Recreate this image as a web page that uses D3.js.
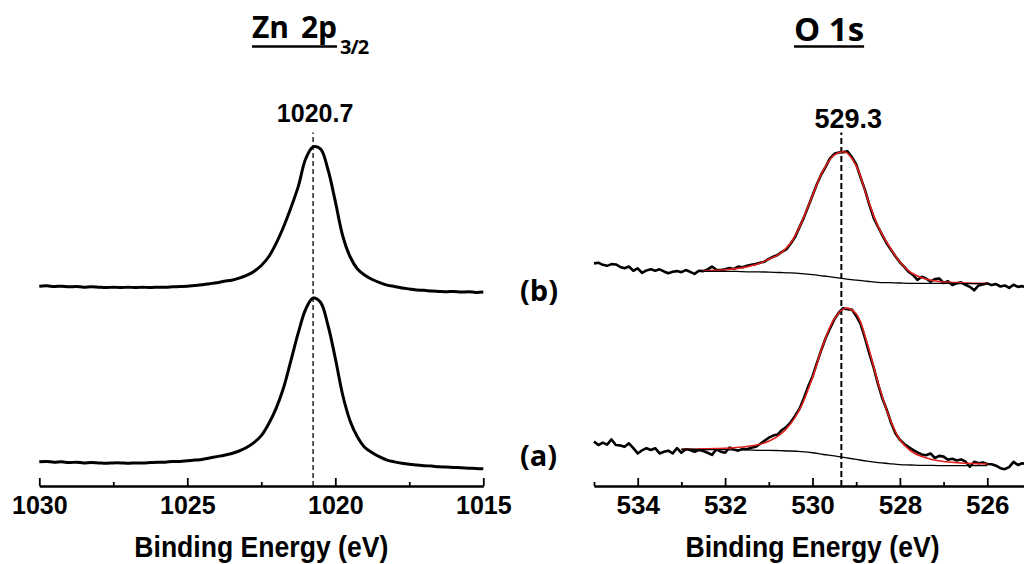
<!DOCTYPE html>
<html>
<head>
<meta charset="utf-8">
<script src="https://cdn.jsdelivr.net/npm/d3@7/dist/d3.min.js"></script>
<style>
body { margin: 0; background: #fff; }
</style>
</head>
<body>
<div id="vis"></div>
<script>
const width = 1024
const height = 564

// Zn 2p3/2, one point every 0.25 eV from 1030 down to 1015 (a.u.)
const znStart = 1030
const znStep = 0.25
const znA = [
    6.9, 7.0, 6.8, 6.9, 6.7, 6.8, 6.6, 6.7, 6.6, 6.5,
    6.6, 6.6, 6.5, 6.6, 6.6, 6.7, 6.8, 6.8, 7.0, 7.0,
    7.2, 7.4, 7.6, 8.0, 8.4, 8.8, 9.3, 10.0, 11.0, 12.4,
    14.4, 17.8, 22.2, 28.0, 35.8, 43.8, 50.5, 53.7, 52.5, 46.0,
    36.5, 26.0, 18.6, 14.0, 11.0, 9.5, 8.3, 7.4, 6.9, 6.5,
    6.2, 6.0, 5.8, 5.7, 5.5, 5.4, 5.3, 5.2, 5.1, 5.0,
    4.9
]
const znB = [
    57.1, 57.2, 57.0, 57.1, 56.9, 57.0, 56.8, 56.9, 56.8, 56.7,
    56.8, 56.7, 56.8, 56.7, 56.8, 56.7, 56.8, 56.8, 56.9, 57.0,
    57.1, 57.3, 57.5, 57.8, 58.1, 58.5, 58.8, 59.4, 60.2, 61.3,
    63.0, 65.5, 69.3, 74.0, 79.5, 85.6, 93.5, 96.9, 96.3, 90.5,
    81.3, 71.5, 65.5, 62.0, 60.2, 59.0, 58.1, 57.4, 57.0, 56.6,
    56.3, 56.0, 55.9, 55.7, 55.6, 55.5, 55.6, 55.4, 55.5, 55.3,
    55.4
]

// O 1s raw data, one point every 0.1 eV from 535 down to 525 (a.u.)
const oStart = 535
const oStep = 0.1
const oA = [
    12.7, 11.7, 12.4, 11.8, 13.3, 11.7, 11.6, 11.2, 12.2, 10.8,
    9.3, 10.2, 10.8, 10.3, 10.8, 9.3, 9.8, 10.1, 9.3, 10.8,
    9.5, 10.5, 10.3, 9.8, 10.3, 10.0, 9.5, 8.9, 10.5, 9.8,
    9.5, 11.0, 10.4, 10.1, 10.6, 10.5, 10.9, 11.2, 12.0, 12.9,
    13.8, 14.4, 14.7, 16.0, 16.8, 18.2, 20.0, 22.0, 25.0, 28.4,
    31.3, 35.1, 38.8, 42.2, 45.0, 47.6, 49.5, 50.8, 50.5, 50.4,
    48.6, 46.3, 42.3, 37.9, 33.8, 29.1, 25.0, 21.7, 18.0, 15.0,
    13.2, 12.0, 11.1, 10.3, 9.6, 9.0, 8.8, 9.3, 8.0, 8.6,
    8.4, 7.5, 7.8, 7.3, 7.6, 7.0, 5.5, 6.9, 6.5, 6.7,
    6.3, 6.2, 5.8, 5.1, 4.8, 5.4, 6.9, 6.0, 6.5, 6.2,
    6.4
]
const oB = [
    63.6, 63.8, 63.2, 62.9, 63.4, 63.3, 62.6, 62.2, 62.7, 61.5,
    62.2, 60.9, 61.6, 61.9, 61.5, 61.9, 61.3, 60.8, 61.2, 61.4,
    61.1, 61.7, 61.2, 60.6, 61.5, 61.4, 61.9, 62.7, 61.8, 61.7,
    61.9, 62.3, 62.0, 62.7, 62.5, 62.9, 63.2, 63.4, 63.8, 64.1,
    64.9, 65.5, 66.0, 66.9, 67.6, 69.2, 71.1, 73.9, 76.6, 79.8,
    83.0, 86.2, 89.0, 91.2, 93.6, 94.9, 95.3, 95.4, 95.6, 94.0,
    91.9, 88.2, 84.6, 80.4, 76.6, 74.0, 71.6, 69.3, 67.4, 65.6,
    63.9, 62.6, 61.2, 60.3, 58.9, 59.8, 59.3, 58.4, 59.1, 59.3,
    58.0, 58.5, 57.4, 57.9, 58.2, 57.5, 56.9, 55.9, 57.3, 57.6,
    57.9, 57.4, 57.7, 57.0, 57.3, 56.6, 57.5, 56.9, 57.1, 56.8,
    57.2
]

// O 1s fit (red) and Shirley background, every 0.25 eV down to 526
const fitStep = 0.25
const fitAStart = 533
const fitA = [
    10.5, 10.5, 10.6, 10.7, 10.8, 11.0, 11.3, 11.8, 12.8, 14.6,
    17.8, 23.0, 31.0, 40.6, 47.8, 50.8, 49.2, 40.8, 29.5, 19.8,
    13.2, 10.0, 8.4, 7.5, 7.0, 6.7, 6.5, 6.4, 6.3
]
const bgA = [
    10.5, 10.5, 10.4, 10.4, 10.4, 10.3, 10.3, 10.2, 10.2, 10.1,
    10.0, 9.8, 9.5, 9.0, 8.6, 8.1, 7.6, 7.1, 6.7, 6.4,
    6.1, 6.0, 5.9, 5.9, 5.8, 5.8, 5.8, 5.8, 5.8
]
const fitBStart = 532.5
const fitB = [
    61.5, 61.6, 61.8, 62.1, 62.6, 63.4, 64.8, 66.3, 69.4, 75.3,
    83.0, 90.3, 94.6, 95.4, 91.5, 82.5, 74.2, 68.6, 64.0, 61.0,
    59.5, 58.7, 58.3, 58.1, 58.0, 57.9, 57.9
]
const bgB = [
    61.3, 61.3, 61.3, 61.3, 61.2, 61.2, 61.1, 61.0, 60.9, 60.7,
    60.4, 60.0, 59.6, 59.2, 58.8, 58.5, 58.2, 58.1, 58.0, 57.9,
    57.9, 57.9, 57.9, 57.9, 57.8, 57.8, 57.8
]

// axes and peak markers
const znMajor = [1030, 1025, 1020, 1015]
const znMinor = [1027.5, 1022.5, 1017.5]
const oMajor = [534, 532, 530, 528, 526]
const oMinor = [535, 533, 531, 529, 527, 525]
const znPeak = 1020.75
const znPeakLabel = "1020.7"
const oPeak = 529.34
const oPeakLabel = "529.3"
const markerTop = 101

const svg = d3.select("#vis")
    .append("svg")
    .attr("width", width)
    .attr("height", height)

const y = d3.scaleLinear([0, 100], [486, 136])
const xZn = d3.scaleLinear([1030, 1015], [39.3, 483.3])
const xO = d3.scaleLinear([535, 525], [594, 1031])

const energies = (start, step, n) => d3.range(n).map(i => start - i * step)

function curve(x, start, step, values, curveType) {
    const e = energies(start, step, values.length)
    return d3.line()
        .x((d, i) => x(e[i]))
        .y(d => y(d))
        .curve(curveType)(values)
}

function drawAxis(x, major, minor, fontSize, label) {
    const gMinor = svg.append("g")
        .attr("transform", `translate(0, ${y(0)})`)
        .call(d3.axisBottom(x).tickValues(minor).tickSize(-4).tickSizeOuter(0).tickFormat(""))
    const gMajor = svg.append("g")
        .attr("transform", `translate(0, ${y(0)})`)
        .call(d3.axisBottom(x).tickValues(major).tickSize(-8).tickSizeOuter(0).tickPadding(10).tickFormat(d3.format("d")))
    for (const g of [gMinor, gMajor]) {
        g.select(".domain").attr("stroke", "#000").attr("stroke-width", 2)
        g.selectAll(".tick line").attr("stroke", "#000").attr("stroke-width", 1.8)
    }
    gMajor.selectAll(".tick text")
        .attr("fill", "#000")
        .style("font-family", "'Liberation Sans', Arial, sans-serif")
        .style("font-weight", "bold")
        .style("font-size", fontSize + "px")
    const [r0, r1] = x.range()
    svg.append("text")
        .attr("x", (r0 + r1) / 2)
        .attr("y", 557)
        .attr("text-anchor", "middle")
        .attr("textLength", 254)
        .attr("lengthAdjust", "spacingAndGlyphs")
        .style("font-family", "'Liberation Sans', Arial, sans-serif")
        .style("font-weight", "bold")
        .style("font-size", "29px")
        .text(label)
}

function drawMarker(x, value, label, dash, strokeWidth, fontSize, dx, labelY) {
    svg.append("line")
        .attr("x1", x(value)).attr("x2", x(value))
        .attr("y1", y(0)).attr("y2", y(markerTop))
        .attr("stroke", "#000")
        .attr("stroke-width", strokeWidth)
        .attr("stroke-dasharray", dash)
    svg.append("text")
        .attr("x", x(value) + dx)
        .attr("y", labelY)
        .attr("text-anchor", "middle")
        .style("font-family", "'Liberation Sans', Arial, sans-serif")
        .style("font-weight", "bold")
        .style("font-size", fontSize + "px")
        .text(label)
}

// Zn 2p panel
drawMarker(xZn, znPeak, znPeakLabel, "5,3", 1.3, 25, 2, 122)
for (const s of [znA, znB]) {
    svg.append("path")
        .attr("d", curve(xZn, znStart, znStep, s, d3.curveCatmullRom))
        .attr("fill", "none")
        .attr("stroke", "#000")
        .attr("stroke-width", 3)
        .attr("stroke-linejoin", "round")
}
drawAxis(xZn, znMajor, znMinor, 25, "Binding Energy (eV)")

// O 1s panel
drawMarker(xO, oPeak, oPeakLabel, "6,3", 2, 27, 7, 128)
const oSets = [
    [oA, fitAStart, fitA, bgA],
    [oB, fitBStart, fitB, bgB]
]
for (const [raw, fStart, fit, bg] of oSets) {
    svg.append("path")
        .attr("d", curve(xO, oStart, oStep, raw, d3.curveLinear))
        .attr("fill", "none")
        .attr("stroke", "#000")
        .attr("stroke-width", 2.6)
        .attr("stroke-linejoin", "round")
    svg.append("path")
        .attr("d", curve(xO, fStart, fitStep, fit, d3.curveCatmullRom))
        .attr("fill", "none")
        .attr("stroke", "#e3201b")
        .attr("stroke-width", 1.6)
    svg.append("path")
        .attr("d", curve(xO, fStart, fitStep, bg, d3.curveCatmullRom))
        .attr("fill", "none")
        .attr("stroke", "#000")
        .attr("stroke-width", 1.3)
}
drawAxis(xO, oMajor, oMinor, 26, "Binding Energy (eV)")

// sample labels
const sampleLabels = ["(a)", "(b)"]
svg.selectAll("text.sample")
    .data(sampleLabels)
    .join("text")
        .attr("class", "sample")
        .attr("x", 520)
        .attr("y", (d, i) => i === 0 ? 466 : 301)
        .style("font-family", "'Open Sans', sans-serif")
        .style("font-weight", "bold")
        .style("font-size", "29px")
        .text(d => d)

// panel titles, underlined
function title(x, baseline, main, sub, size, wordSpacing) {
    const t = svg.append("text")
        .attr("x", x)
        .attr("y", baseline)
        .style("font-family", "'Open Sans', sans-serif")
        .style("font-weight", "bold")
        .style("font-size", size + "px")
        .style("word-spacing", wordSpacing + "px")
    const mainSpan = t.append("tspan").text(main)
    const w = mainSpan.node().getComputedTextLength()
    if (sub) {
        t.append("tspan")
            .attr("dy", 16)
            .attr("dx", 3)
            .style("font-size", "20px")
            .style("letter-spacing", "-1px")
            .text(sub)
    }
    svg.append("line")
        .attr("x1", x).attr("x2", x + w)
        .attr("y1", 46.5).attr("y2", 46.5)
        .attr("stroke", "#000")
        .attr("stroke-width", 2.6)
}
title(252, 38, "Zn 2p", "3/2", 30, 4)
title(794, 41, "O 1s", null, 33, 0)
</script>
</body>
</html>
